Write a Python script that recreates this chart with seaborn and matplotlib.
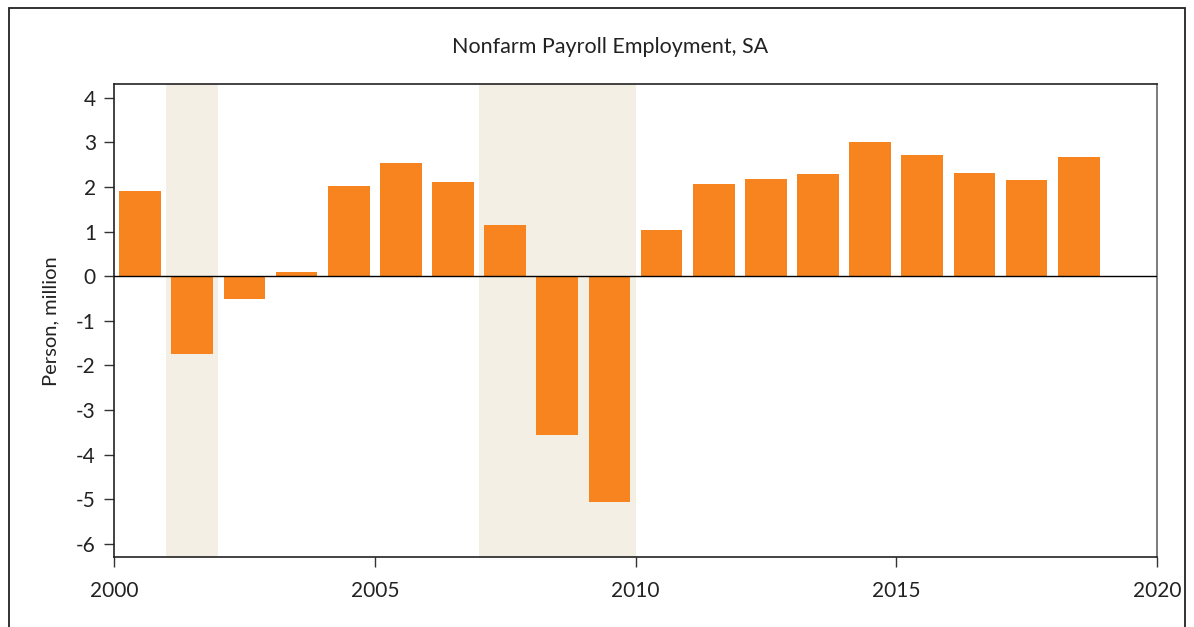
import matplotlib
matplotlib.use("Agg")
import matplotlib.pyplot as plt
import seaborn as sns
import pandas as pd
from matplotlib.patches import Rectangle

years = list(range(2000, 2019))
values = [1.92, -1.74, -0.52, 0.10, 2.02, 2.53, 2.10, 1.14, -3.56, -5.06,
          1.03, 2.06, 2.17, 2.28, 3.00, 2.72, 2.31, 2.15, 2.66]
recessions = [(2001, 2002), (2007, 2010)]
title = "Nonfarm Payroll Employment, SA"
ylabel = "Person, million"
xticks = [2000, 2005, 2010, 2015, 2020]
yticks = [-6, -5, -4, -3, -2, -1, 0, 1, 2, 3, 4]

sns.set_theme(style="white")
plt.rcParams['font.family'] = ['Lato', 'DejaVu Sans']
plt.rcParams['axes.unicode_minus'] = False

df = pd.DataFrame({"pos": [y + 0.5 for y in years], "value": values})

fig = plt.figure(figsize=(11.94, 6.27), dpi=100)
ax = fig.add_axes([114/1194, 1-557.3/627, (1157-114)/1194, (557.3-84.3)/627])

for a, b in recessions:
    ax.axvspan(a, b, color="#F3EFE5", zorder=0, lw=0)

sns.barplot(data=df, x="pos", y="value", native_scale=True, width=0.8,
            color="#F7841F", saturation=1, ax=ax, zorder=2, linewidth=0)
ax.axhline(0, color="black", lw=1, zorder=3)

ax.set_xlim(2000, 2020)
ax.set_ylim(-6.3, 4.3)
ax.set_xticks(xticks)
ax.set_xticklabels([str(x) for x in xticks])
ax.set_yticks(yticks)
ax.set_yticklabels([str(y) for y in yticks])
ax.set_xlabel("")
ax.set_ylabel(ylabel, fontsize=14.5, color="#222222", labelpad=12)
ax.tick_params(axis="both", which="both", direction="out", length=7, width=1,
               color="#333333", labelsize=15, labelcolor="#222222",
               bottom=True, left=True)
ax.tick_params(axis="x", pad=10)
ax.tick_params(axis="y", pad=6)
for side in ["left", "bottom", "top"]:
    ax.spines[side].set_color("#222222")
    ax.spines[side].set_linewidth(1.2)
ax.spines["right"].set_color("#666666")
ax.spines["right"].set_linewidth(1.2)

fig.text(610/1194, 1-47/627, title, ha="center", va="center", fontsize=15.5, color="#222222")

frame = Rectangle((9/1194, -0.05), (1185-9)/1194, 1-8/627+0.05, transform=fig.transFigure,
                  fill=False, edgecolor="#222222", lw=1.3)
fig.patches.append(frame)

fig.savefig("out.png", dpi=100)
